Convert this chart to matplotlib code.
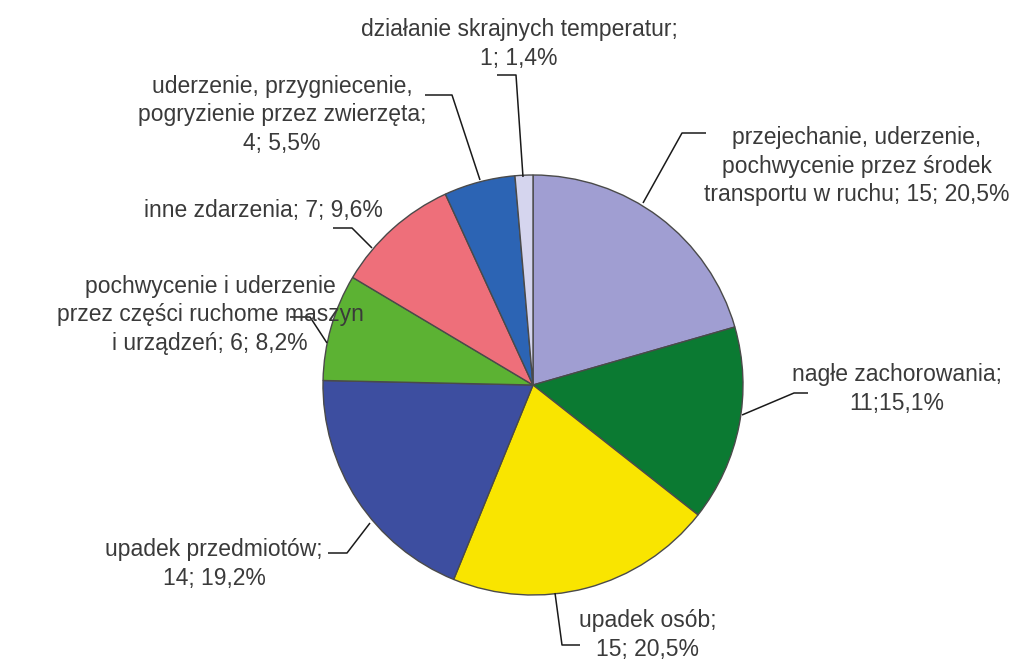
import matplotlib
matplotlib.use("Agg")
import matplotlib.pyplot as plt

# wypadki wg wydarzenia (liczba; udzial %)
labels = [
    "przejechanie, uderzenie,\npochwycenie przez środek\ntransportu w ruchu; 15; 20,5%",
    "nagłe zachorowania;\n11;15,1%",
    "upadek osób;\n15; 20,5%",
    "upadek przedmiotów;\n14; 19,2%",
    "pochwycenie i uderzenie\nprzez części ruchome maszyn\ni urządzeń; 6; 8,2%",
    "inne zdarzenia; 7; 9,6%",
    "uderzenie, przygniecenie,\npogryzienie przez zwierzęta;\n4; 5,5%",
    "działanie skrajnych temperatur;\n1; 1,4%",
]
counts = [15, 11, 15, 14, 6, 7, 4, 1]
colors = ["#a09ed2", "#0b7a32", "#f9e500", "#3d4ea0",
          "#5cb233", "#ee6f7a", "#2c64b4", "#d5d5ee"]

W, H = 1015, 662
CX, CY, R = 533, 385, 210   # pie centre / radius in pixels (from top)

# label layout: text centre, leader line (pie point -> elbow -> end), pixels from top
text_pos = [(857, 166), (897, 389), (648, 635), (214, 564),
            (210, 315), (263, 210), (282, 115), (519, 44)]
leaders = [
    [(643, 203), (682, 133), (706, 133)],
    [(742, 415), (794, 393), (808, 393)],
    [(555, 593), (562, 645), (580, 645)],
    [(370, 523), (347, 553), (328, 553)],
    [(327, 343), (310, 317), (290, 317)],
    [(372, 248), (352, 228), (333, 228)],
    [(480, 180), (452, 95), (425, 95)],
    [(523, 177), (516, 75), (497, 75)],
]

plt.rcParams["font.family"] = ["Liberation Sans", "DejaVu Sans"]

fig = plt.figure(figsize=(W / 100, H / 100), dpi=100)
ax = fig.add_axes([0, 0, 1, 1])

ax.pie(counts, colors=colors, startangle=90, counterclock=False,
       center=(CX, H - CY), radius=R, frame=True,
       wedgeprops=dict(edgecolor="#4a4a4a", linewidth=1.0))
ax.set_xlim(0, W)
ax.set_ylim(0, H)
ax.set_aspect("equal")
ax.axis("off")

for pts in leaders:
    xs = [p[0] for p in pts]
    ys = [H - p[1] for p in pts]
    ax.plot(xs, ys, color="#1a1a1a", lw=1.1, solid_capstyle="butt")

for lab, (tx, ty) in zip(labels, text_pos):
    ax.text(tx, H - ty, lab, ha="center", va="center", fontsize=16.5,
            color="#3a3a3a", linespacing=1.3)

fig.savefig("out.png", dpi=100)
